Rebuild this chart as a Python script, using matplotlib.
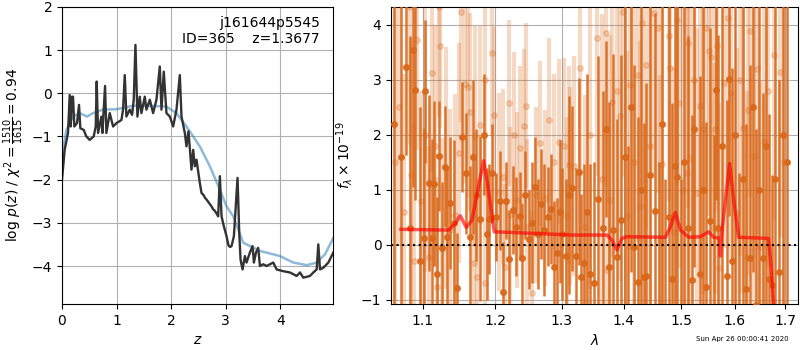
import matplotlib
matplotlib.use('Agg')
import matplotlib.pyplot as plt
from matplotlib.ticker import FixedLocator, FormatStrFormatter, NullLocator

# ---- left panel: log p(z) ----
z_pz = [0.000, 0.049, 0.110, 0.141, 0.159, 0.183, 0.202, 0.226, 0.275, 0.312,
        0.336, 0.398, 0.446, 0.508, 0.581, 0.618, 0.636, 0.661, 0.722, 0.740,
        0.789, 0.813, 0.875, 0.936, 1.000, 1.089, 1.119, 1.150, 1.180, 1.242,
        1.284, 1.315, 1.346, 1.382, 1.425, 1.456, 1.517, 1.547, 1.609, 1.670,
        1.731, 1.792, 1.823, 1.865, 1.914, 1.976, 2.037, 2.098, 2.159, 2.190,
        2.251, 2.281, 2.318, 2.373, 2.404, 2.434, 2.465, 2.526, 2.557, 2.590,
        2.620, 2.648, 2.700, 2.740, 2.771, 2.800, 2.830, 2.862, 2.893, 2.924,
        2.960, 3.015, 3.050, 3.080, 3.107, 3.150, 3.217, 3.248, 3.272,
        3.309, 3.352, 3.382, 3.443, 3.492, 3.517, 3.554, 3.596, 3.627, 3.688,
        3.749, 3.872, 3.933, 4.055, 4.177, 4.300, 4.361, 4.422, 4.544, 4.606,
        4.667, 4.697, 4.728, 4.789, 4.881, 4.972]
logp = [-2.00, -1.31, -0.92, -0.04, -0.77, -0.08, -0.08, -0.77, -0.69, -0.27,
        -0.81, -0.85, -1.00, -1.08, -1.00, -0.77, 0.27, -0.92, -0.54, -0.92,
        0.17, -0.92, -0.46, -0.77, -0.69, -0.62, -0.38, 0.42, -0.54, -0.38,
        -0.50, -0.15, 1.12, -0.54, -0.08, -0.46, -0.08, -0.38, -0.15, -0.46,
        -0.15, 0.62, -0.38, 0.50, -0.46, -0.54, -0.77, -0.38, 0.42, -0.54,
        -0.92, -1.23, -0.88, -1.77, -1.31, -1.69, -1.54, -2.08, -2.31, -2.35,
        -2.42, -2.46, -2.55, -2.62, -2.69, -2.72, -2.78, -2.85, -1.92, -2.85,
        -3.05, -3.31, -3.52, -3.56, -3.54, -3.31, -1.96, -3.23, -3.85,
        -4.08, -3.77, -3.92, -3.69, -3.54, -3.92, -3.69, -3.58, -4.00, -3.96,
        -4.00, -3.92, -4.08, -4.12, -4.15, -4.23, -4.15, -4.27, -4.23, -4.15,
        -4.08, -3.50, -4.08, -4.04, -3.92, -3.69]

z_prior = [0.000, 0.080, 0.202, 0.324, 0.459, 0.569, 0.752, 1.000, 1.303, 1.609,
           1.914, 2.098, 2.281, 2.526, 2.709, 2.893, 3.015, 3.138, 3.321, 3.627,
           3.994, 4.239, 4.483, 4.667, 4.820, 4.972]
logp_prior = [-1.46, -0.85, -0.54, -0.46, -0.54, -0.46, -0.38, -0.37, -0.29, -0.29,
              -0.31, -0.46, -0.77, -1.23, -1.69, -2.23, -2.62, -2.85, -3.46, -3.65,
              -3.77, -3.92, -3.98, -3.92, -3.73, -3.35]

# ---- right panel: spectrum ----
wave_a = [1.063, 1.072, 1.0787, 1.0830, 1.0874, 1.0904, 1.0970, 1.1013, 1.1036, 1.1080,
          1.1124, 1.1146, 1.1191, 1.1226, 1.1266, 1.1302, 1.1333, 1.1369, 1.1420, 1.1459,
          1.1527, 1.1586, 1.1641, 1.1686, 1.1730, 1.1782, 1.1836, 1.1884, 1.1920, 1.1955,
          1.2010, 1.2066, 1.2114, 1.2158, 1.2207, 1.2256, 1.2305, 1.2364, 1.2394, 1.2434,
          1.2493, 1.2540, 1.2594, 1.2640, 1.2680, 1.2731, 1.2782, 1.2838, 1.2880, 1.2926,
          1.2965, 1.3004, 1.3072, 1.3120, 1.3161, 1.3229, 1.3277, 1.3303, 1.3346, 1.3400,
          1.3442, 1.3507, 1.3577, 1.3653, 1.3714, 1.3760, 1.3818, 1.3890, 1.3957, 1.4020,
          1.4080, 1.4130, 1.4170, 1.4244, 1.4300, 1.4341, 1.4381, 1.4456, 1.4543, 1.4600,
          1.4660, 1.4720, 1.4780, 1.4838, 1.4897, 1.4927, 1.5000, 1.5060, 1.5130, 1.5198,
          1.5240, 1.5338, 1.5400, 1.5455, 1.5535, 1.5600, 1.5647, 1.5678, 1.5750, 1.5849,
          1.5893, 1.5944, 1.6010, 1.6080, 1.6150, 1.6220, 1.6285, 1.6350, 1.6420, 1.6480,
          1.6547, 1.6610, 1.6660, 1.6726, 1.6800, 1.6870, 1.6950, 1.7043]
flux_a = [2.20, 1.60, 3.24, 0.30, 3.55, 2.82, -0.30, 0.12, 2.79, 1.12,
          0.12, 1.11, -0.52, 1.61, -0.06, 1.42, 0.14, 0.77, 0.40, -0.79,
          1.97, 1.30, 0.14, 1.60, 0.90, 0.48, 2.00, 0.20, 0.48, 1.30,
          0.50, 0.80, -0.85, 0.80, -0.26, 0.64, 0.33, 0.53, -0.24, 0.90,
          0.10, 0.40, 1.06, 0.20, 0.75, 0.27, 0.51, 0.65, -0.40, -0.15,
          0.60, 0.20, -0.20, 0.90, 1.03, -0.20, 1.33, -0.58, -0.33, 0.60,
          -0.52, -0.70, 0.83, 0.30, 2.10, -0.40, 0.27, -0.21, 0.45, 1.60,
          -1.20, 2.50, -0.03, -0.67, 1.00, -0.58, -0.56, 1.28, 0.62, -1.50,
          2.20, -1.30, 0.50, -0.62, 1.44, 1.24, -1.80, 1.50, 0.30, -0.64,
          2.10, -0.53, 1.00, -0.76, 0.44, -1.20, 2.82, 0.31, 1.80, -0.56,
          3.02, -0.29, 2.00, -1.50, 1.20, -0.80, -0.23, 2.50, -1.10, 1.00,
          -0.23, 1.80, -0.62, -0.72, 1.20, -0.50, 2.00, 1.50]
err_a = [4.0, 2.8, 1.6, 3.5, 2.5, 2.0, 2.8, 2.0, 1.3, 1.6,
         1.8, 1.5, 1.4, 1.0, 1.2, 1.1, 1.3, 1.2, 1.5, 1.0,
         1.0, 1.1, 1.3, 1.4, 1.2, 1.5, 1.1, 1.2, 1.0, 0.9,
         0.8, 0.9, 0.9, 0.7, 0.9, 0.8, 0.9, 0.8, 1.0, 0.8,
         0.9, 1.1, 0.9, 1.0, 1.0, 1.2, 0.9, 1.0, 1.2, 1.0,
         1.3, 1.2, 1.4, 1.8, 1.5, 1.6, 1.7, 1.5, 1.8, 2.5,
         2.0, 2.2, 2.6, 2.5, 1.6, 3.0, 3.2, 2.5, 3.0, 3.5,
         3.0, 3.0, 3.3, 3.0, 4.0, 2.8, 3.5, 3.2, 3.6, 3.0,
         3.5, 2.5, 4.0, 3.2, 3.0, 3.8, 3.0, 4.0, 3.5, 3.0,
         2.5, 3.6, 4.0, 3.0, 3.5, 3.2, 2.0, 3.5, 4.0, 3.2,
         2.5, 3.5, 4.0, 2.8, 4.0, 3.0, 3.5, 3.0, 3.2, 4.0,
         3.0, 3.5, 3.0, 2.0, 4.0, 3.5, 4.0, 4.5]

wave_b = [1.0640, 1.0700, 1.0760, 1.0830, 1.0852, 1.0882, 1.0926, 1.0979, 1.1030, 1.1080,
          1.1125, 1.1160, 1.1191, 1.1218, 1.1236, 1.1259, 1.1310, 1.1372, 1.1440, 1.1486,
          1.1518, 1.1569, 1.1611, 1.1639, 1.1695, 1.1719, 1.1742, 1.1780, 1.1851, 1.1860,
          1.1955, 1.1979, 1.2051, 1.2114, 1.2150, 1.2197, 1.2221, 1.2270, 1.2320, 1.2369,
          1.2418, 1.2458, 1.2468, 1.2543, 1.2600, 1.2669, 1.2745, 1.2797, 1.2874, 1.2952,
          1.3029, 1.3082, 1.3108, 1.3134, 1.3197, 1.3282, 1.3373, 1.3450, 1.3561, 1.3640,
          1.3709, 1.3725, 1.3780, 1.3808, 1.3891, 1.3935, 1.3991, 1.4059, 1.4115, 1.4180,
          1.4246, 1.4286, 1.4314, 1.4389, 1.4450, 1.4516, 1.4586, 1.4633, 1.4662, 1.4780,
          1.4809, 1.4868, 1.4928, 1.4958, 1.5030, 1.5109, 1.5127, 1.5169, 1.5230, 1.5291,
          1.5352, 1.5401, 1.5463, 1.5506, 1.5550, 1.5600, 1.5631, 1.5662, 1.5693, 1.5787,
          1.5863, 1.5927, 1.6042, 1.6100, 1.6158, 1.6236, 1.6249, 1.6288, 1.6366, 1.6430,
          1.6498, 1.6564, 1.6650, 1.6764, 1.6899, 1.6980]
flux_b = [1.50, 2.50, 0.60, 4.32, 1.27, -0.29, 3.73, 0.79, 2.00, -0.21,
          3.13, 1.80, -0.76, 4.32, 3.62, -0.06, 1.40, 0.27, 0.55, 1.67,
          4.24, 2.92, 2.87, 2.42, -0.33, 1.98, -0.58, 2.18, 2.99, -0.70,
          3.48, 2.36, 0.97, 1.23, -0.40, 2.58, 0.55, 2.00, 0.82, 1.76,
          2.17, 2.53, 0.33, -0.88, 0.90, 1.85, 0.85, 2.27, 1.50, 1.88,
          1.79, 0.52, 1.45, 1.07, 1.44, 3.21, 0.33, 2.00, 3.76, 1.20,
          3.85, -0.45, 0.82, 2.59, 2.79, 2.35, 4.24, 0.52, 2.91, 1.50,
          3.08, 0.70, 4.03, 3.27, 1.80, 4.21, 3.94, 0.09, 1.48, 3.79,
          3.21, 0.24, 4.09, 2.58, 1.00, 1.30, 3.67, 1.58, 3.00, 0.94,
          2.52, 2.11, 3.94, 3.52, 3.42, 0.30, 2.11, 3.61, -0.42, 2.94,
          4.12, 2.76, 0.58, 3.00, 2.12, -0.21, 2.45, 3.88, 1.61, 3.20,
          -0.03, 1.88, 2.80, 3.45, 3.15, 1.50]
err_b = [3.0, 2.5, 2.5, 2.5, 2.5, 2.5, 2.0, 2.0, 2.5, 2.0,
         1.8, 2.2, 2.0, 2.0, 1.5, 2.0, 2.2, 2.2, 2.2, 2.0,
         2.0, 1.8, 2.0, 1.8, 2.0, 2.0, 1.8, 1.8, 1.6, 1.8,
         1.5, 1.6, 1.8, 1.6, 1.5, 1.5, 1.6, 1.5, 1.6, 1.5,
         1.4, 1.5, 1.6, 1.5, 1.6, 1.5, 1.6, 1.5, 1.6, 1.5,
         1.6, 1.8, 1.8, 1.8, 2.0, 2.2, 2.4, 2.8, 2.5, 3.0,
         2.8, 2.5, 3.0, 2.8, 3.0, 3.0, 3.0, 3.0, 3.0, 3.2,
         3.0, 3.0, 3.0, 3.0, 3.5, 3.0, 3.0, 3.0, 3.2, 3.0,
         3.0, 3.0, 3.0, 3.0, 3.5, 3.2, 3.0, 3.0, 3.0, 3.0,
         3.0, 3.0, 3.0, 3.0, 3.0, 3.0, 3.0, 3.0, 3.0, 3.0,
         3.0, 3.0, 3.0, 3.2, 3.0, 3.0, 3.0, 3.0, 3.0, 3.0,
         3.0, 3.0, 3.2, 3.0, 3.0, 3.5]

wave_model = [1.0718, 1.1349, 1.1440, 1.1509, 1.1593, 1.1671, 1.1765, 1.1836, 1.1898, 1.1989,
              1.3187, 1.3725, 1.3805, 1.3890, 1.3974, 1.4058, 1.4721, 1.4810, 1.4897, 1.4990,
              1.5140, 1.5352, 1.5506, 1.5599, 1.5711, 1.5725, 1.5745, 1.5820, 1.5901, 1.5977,
              1.6075, 1.6660, 1.6713, 1.6759, 1.6800]
flux_model = [0.285, 0.27, 0.39, 0.53, 0.32, 0.45, 1.06, 1.53, 1.06, 0.24,
              0.18, 0.18, 0.09, -0.09, 0.12, 0.15, 0.14, 0.33, 0.59, 0.27,
              0.14, 0.15, 0.24, 0.14, 0.12, -0.20, 0.15, 0.82, 1.48, 0.82,
              0.14, 0.12, -0.39, -1.06, -1.60]

lam_ticks = [1.1, 1.2, 1.3, 1.4, 1.5, 1.6, 1.7]
spec_color = '#d9681a'

fig = plt.figure(figsize=(8, 3.5), dpi=100)
ax1 = fig.add_axes([0.0775, 0.1314, 0.339, 0.849])
ax2 = fig.add_axes([0.489, 0.1314, 0.509, 0.849])

# p(z)
ax1.plot(z_prior, logp_prior, color='#1f77b4', alpha=0.5, lw=1.8)
ax1.plot(z_pz, logp, color='0.2', lw=1.7)
ax1.set_xlim(0, 4.97)
ax1.set_ylim(-4.88, 2)
ax1.set_xticks([0, 1, 2, 3, 4])
ax1.set_yticks([-4, -3, -2, -1, 0, 1, 2])
ax1.grid(True)
ax1.set_xlabel(r'$z$')
ax1.set_ylabel(r'log $p(z)$ / $\chi^2=\frac{1510}{1615}=0.94$')
ax1.text(0.95, 0.97, 'j161644p5545\nID=365    z=1.3677', transform=ax1.transAxes,
         ha='right', va='top', fontsize=10)

# spectrum
ax2.errorbar(wave_b, flux_b, yerr=err_b, fmt='o', color=spec_color, alpha=0.25,
             ms=4, elinewidth=3.0, capsize=0, zorder=2)
ax2.errorbar(wave_a, flux_a, yerr=err_a, fmt='o', color=spec_color, alpha=0.9,
             ms=4, elinewidth=1.8, capsize=0, zorder=3)
ax2.plot(wave_model, flux_model, color='r', alpha=0.65, lw=2.5, zorder=4)
ax2.axhline(0, color='k', ls=':', lw=1.5, zorder=5)
ax2.set_xscale('log')
ax2.xaxis.set_major_locator(FixedLocator(lam_ticks))
ax2.xaxis.set_major_formatter(FormatStrFormatter('%.1f'))
ax2.xaxis.set_minor_locator(NullLocator())
ax2.set_xlim(1.0594, 1.7268)
ax2.set_ylim(-1.073, 4.327)
ax2.set_yticks([-1, 0, 1, 2, 3, 4])
ax2.grid(True)
ax2.set_xlabel(r'$\lambda$')
ax2.set_ylabel(r'$f_\lambda \times 10^{-19}$')

fig.text(0.9275, 0.03, 'Sun Apr 26 00:00:41 2020', ha='center', va='center', fontsize=5)

fig.savefig('out.png', dpi=100)
